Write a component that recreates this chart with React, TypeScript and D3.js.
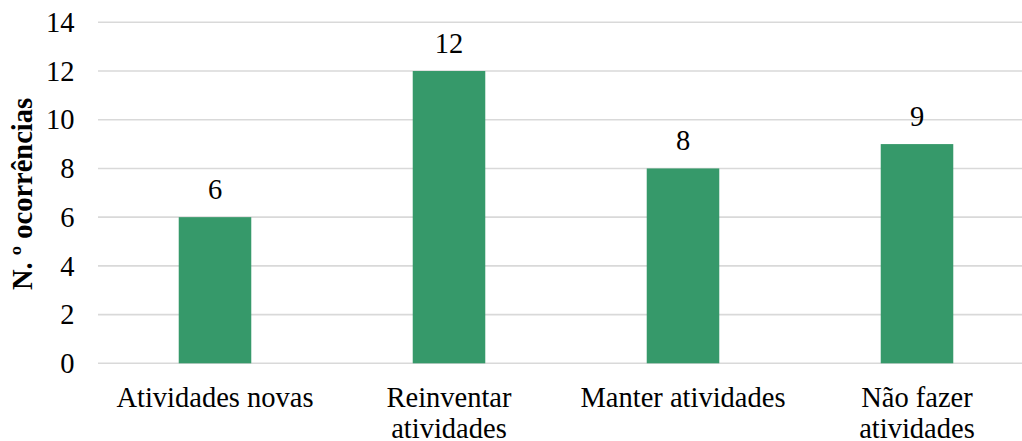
import React from "react";
import * as d3 from "d3";

// Occurrences per category
const categories: string[] = ["Atividades novas", "Reinventar atividades", "Manter atividades", "Não fazer atividades"];
const categoryLines: string[][] = [
  ["Atividades novas"],
  ["Reinventar", "atividades"],
  ["Manter atividades"],
  ["Não fazer", "atividades"],
];
const occurrences: number[] = [6, 12, 8, 9];
const yTicks: number[] = [0, 2, 4, 6, 8, 10, 12, 14];
const yTitle = "N. º ocorrências";

const W = 1022;
const H = 441;
const FONT = "'Liberation Serif', 'Times New Roman', serif";
const FS = 28.5;
const BAR = "#36996a";
const GRID = "#d9d9d9";

export default function App() {
  const x = d3
    .scaleBand<string>()
    .domain(categories)
    .range([98, 1034])
    .paddingInner(0.69)
    .paddingOuter(0.345);
  const y = d3.scaleLinear().domain([0, 14]).range([363.3, 22.3]);

  return (
    <>
      <style>{`body{margin:0}`}</style>
      <svg width={W} height={H} style={{ display: "block", background: "#fff" }} fontFamily={FONT}>
        {/* horizontal gridlines */}
        {yTicks.map((t) => (
          <line key={`g${t}`} x1={98} x2={1034} y1={y(t)} y2={y(t)} stroke={GRID} strokeWidth={1.6} />
        ))}
        {/* y tick labels */}
        {yTicks.map((t) => (
          <text key={`t${t}`} x={74.5} y={y(t)} dy="0.34em" textAnchor="end" fontSize={FS} fill="#000">
            {t}
          </text>
        ))}
        {/* axis title */}
        <text
          transform={`translate(32,194) rotate(-90)`}
          textAnchor="middle"
          fontSize={FS}
          fontWeight="bold"
          fill="#000"
        >
          {yTitle}
        </text>
        {/* bars */}
        {categories.map((c, i) => (
          <rect
            key={`b${c}`}
            x={x(c)!}
            width={x.bandwidth()}
            y={y(occurrences[i])}
            height={y(0) - y(occurrences[i])}
            fill={BAR}
          />
        ))}
        {/* value labels */}
        {categories.map((c, i) => (
          <text
            key={`v${c}`}
            x={x(c)! + x.bandwidth() / 2}
            y={y(occurrences[i]) - 18.5}
            textAnchor="middle"
            fontSize={FS}
            fill="#000"
          >
            {occurrences[i]}
          </text>
        ))}
        {/* category labels */}
        {categories.map((c, i) => (
          <text key={`c${c}`} x={x(c)! + x.bandwidth() / 2} y={406.5} textAnchor="middle" fontSize={FS} fill="#000">
            {categoryLines[i].map((line, j) => (
              <tspan key={j} x={x(c)! + x.bandwidth() / 2} dy={j === 0 ? 0 : 31.5}>
                {line}
              </tspan>
            ))}
          </text>
        ))}
      </svg>
    </>
  );
}
